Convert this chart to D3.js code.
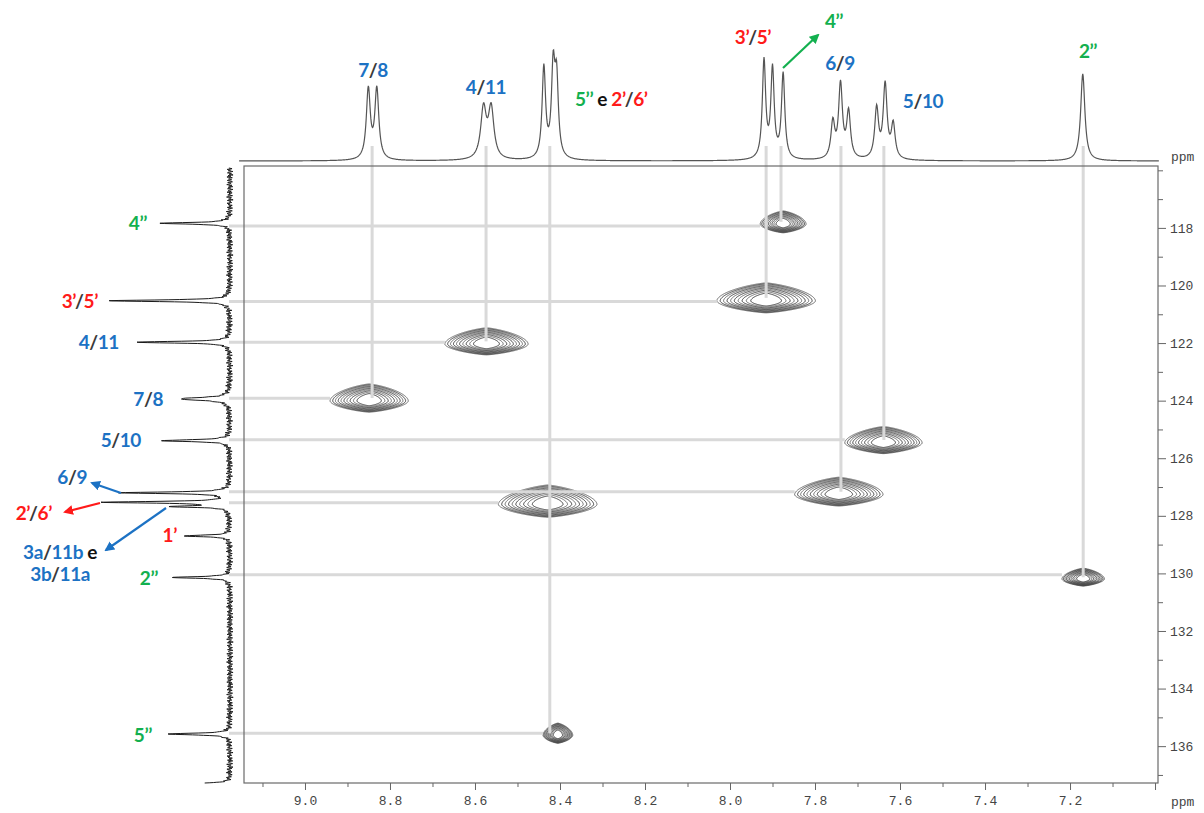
<!DOCTYPE html>
<html>
<head>
<meta charset="utf-8">
<script src="https://cdn.jsdelivr.net/npm/d3@7"></script>
<style>
  body { margin: 0; background: #fff; }
  svg { display: block; }
</style>
</head>
<body>
<svg id="chart" width="1204" height="813"></svg>
<script>
// 1H projection (top trace): line positions (ppm), heights, half widths (ppm)
const hPeakPpm    = [8.851, 8.831, 8.580, 8.562, 8.438, 8.416, 8.408, 7.920, 7.900, 7.875, 7.758, 7.740, 7.721, 7.655, 7.635, 7.616, 7.170];
const hPeakHeight = [70, 70, 50, 50, 91, 86, 74, 98, 89, 85, 36, 74, 46, 50, 74, 34, 87];
const hPeakWidth  = [0.0056, 0.0056, 0.0078, 0.0078, 0.0049, 0.0049, 0.0049, 0.0047, 0.0047, 0.0047, 0.0054, 0.0054, 0.0054, 0.0054, 0.0054, 0.0054, 0.0059];

// 13C projection (left trace)
const cPeakPpm    = [117.84, 120.53, 121.97, 123.94, 125.39, 127.20, 127.53, 127.68, 128.70, 130.14, 135.58, 137.30];
const cPeakHeight = [69, 121, 94, 50, 67, 107, 125, 57, 45, 57, 63, 41];
const cPeakWidth  = [0.035, 0.035, 0.035, 0.06, 0.04, 0.035, 0.035, 0.03, 0.035, 0.035, 0.035, 0.03];
// baseline wiggle of the 13C trace
const cNoise = [0.8,-1.6,2.1,-0.4,1.3,-2.2,0.2,1.9,-1.1,0.6,-2.4,1.5,-0.7,2.3,-1.8,0.4,1.1,-1.3,2.0,-0.2,
                -1.9,1.7,-0.9,0.3,2.4,-1.5,0.9,-2.1,1.2,-0.5,1.8,-2.3,0.1,1.4,-1.0,2.2,-1.7,0.7,-0.3,1.6,
                -2.0,0.5,2.5,-1.2,-0.6,1.0,-2.5,1.9,-0.8,0.2,-1.4,2.1,-0.1,1.3,-1.9,0.6,-1.1,1.8,-2.2,0.9,
                1.2,-0.3,-2.1,2.4,-1.0,0.4,1.7,-2.4,0.7,-1.5,2.2,0.0,-0.9,1.5,-1.8,2.6,-0.6,1.1,-2.0,0.3];

// HSQC cross peaks: 4'', 3'/5', 4/11, 7/8, 5/10, 6/9, 5''+2'/6', 2'', 5''
const crossH     = [7.875, 7.915, 8.573, 8.849, 7.639, 7.744, 8.429, 7.169, 8.405];
const crossC     = [117.79, 120.43, 121.94, 123.91, 125.37, 127.16, 127.49, 130.13, 135.55];
const crossHalfH = [0.054, 0.116, 0.098, 0.092, 0.091, 0.104, 0.116, 0.050, 0.035];
const crossHalfC = [0.38, 0.52, 0.47, 0.49, 0.47, 0.50, 0.56, 0.31, 0.35];

// guide lines (13C shift of horizontal guide, 1H shift of vertical guide)
const hGuideC = [117.93, 120.56, 121.97, 123.92, 125.36, 127.16, 127.55, 130.05, 135.55];
const vGuideH = [7.880, 7.915, 8.574, 8.842, 7.638, 7.739, null, 7.169, 8.424];

const xMajor = [9.0, 8.8, 8.6, 8.4, 8.2, 8.0, 7.8, 7.6, 7.4, 7.2, 7.0];
const xMinor = [9.1, 8.9, 8.7, 8.5, 8.3, 8.1, 7.9, 7.7, 7.5, 7.3, 7.1];
const yMajor = [118, 120, 122, 124, 126, 128, 130, 132, 134, 136];
const yMinor = [116, 117, 119, 121, 123, 125, 127, 129, 131, 133, 135, 137];

const blue = "#1c72c4", red = "#ff1a1a", green = "#13b04f", slash = "#3a3a3a", black = "#111";

const svg = d3.select("#chart");

const x = d3.scaleLinear().domain([9.1435, 6.993]).range([244, 1158]);
const y = d3.scaleLinear().domain([115.85, 137.28]).range([166, 783]);
const topY = d3.scaleLinear().domain([0, 120]).range([161, 41]);
const leftX = d3.scaleLinear().domain([0, 130]).range([230, 100]);

// ---- contours
const expH = 1.3, expC = 1.8, depth = 3, nLevels = 10, step = 0.5;
const levels = d3.range(nLevels).map(k => Math.exp(-depth + k * (depth - 0.4) / nLevels));
const contourG = svg.append("g");

crossH.forEach(function (h, i) {
    const hw = crossHalfH[i] / Math.pow(depth, 1 / expH);
    const cwUp = crossHalfC[i] * 1.2 / Math.pow(depth, 1 / expC);
    const cwDn = crossHalfC[i] * 0.8 / Math.pow(depth, 1 / expC);
    const c0 = crossC[i] + 0.2 * crossHalfC[i];

    const px0 = x(h + crossHalfH[i] * 1.3), px1 = x(h - crossHalfH[i] * 1.3);
    const py0 = y(crossC[i] - crossHalfC[i] * 1.4), py1 = y(crossC[i] + crossHalfC[i] * 1.4);
    const nx = Math.ceil((px1 - px0) / step) + 1, ny = Math.ceil((py1 - py0) / step) + 1;

    const values = new Array(nx * ny);
    for (let j = 0; j < ny; j++) {
        for (let k = 0; k < nx; k++) {
            const dh = (x.invert(px0 + k * step) - h) / hw;
            const dcRaw = y.invert(py0 + j * step) - c0;
            const dc = dcRaw / (dcRaw < 0 ? cwUp : cwDn);
            values[j * nx + k] = Math.exp(-Math.pow(Math.abs(dh), expH) - Math.pow(Math.abs(dc), expC));
        }
    }

    const proj = d3.geoTransform({
        point: function (u, v) { this.stream.point(px0 + (u - 0.5) * step, py0 + (v - 0.5) * step); }
    });
    const path = d3.geoPath(proj);

    contourG.selectAll(null)
        .data(d3.contours().size([nx, ny]).thresholds(levels)(values))
        .enter().append("path")
        .attr("d", path)
        .attr("fill", "none")
        .attr("stroke", (d, k) => k % 2 ? "#222" : "#555")
        .attr("stroke-width", 0.85);
});

// ---- guide lines
const guideG = svg.append("g").attr("stroke", "#d9d9d9").attr("stroke-width", 3);
hGuideC.forEach(function (c, i) {
    guideG.append("line")
        .attr("x1", 229).attr("x2", x(crossH[i] + crossHalfH[i]))
        .attr("y1", y(c)).attr("y2", y(c));
});
vGuideH.forEach(function (h, i) {
    if (h === null) return;
    guideG.append("line")
        .attr("x1", x(h)).attr("x2", x(h))
        .attr("y1", 146).attr("y2", y(crossC[i]));
});

// ---- frame
svg.append("rect")
    .attr("x", 244).attr("y", 166).attr("width", 914).attr("height", 617)
    .attr("fill", "none").attr("stroke", "#6a6a6a").attr("stroke-width", 1.2);

// ---- 1H trace
const hPts = d3.range(9.155, 6.99, -0.001).map(function (p) {
    let v = 0;
    hPeakPpm.forEach(function (c, i) {
        const d = (p - c) / hPeakWidth[i];
        v += hPeakHeight[i] / (1 + d * d);
    });
    return [p, v];
});
svg.append("path")
    .attr("d", d3.line().x(d => x(d[0])).y(d => topY(d[1]))(hPts))
    .attr("fill", "none").attr("stroke", "#555").attr("stroke-width", 1.2);

// ---- 13C trace
const cStep = 0.008, sub = 3;
const cPts = d3.range(115.92, 137.285, cStep).map(function (p, i) {
    let v = 0;
    cPeakPpm.forEach(function (c, k) {
        const d = (p - c) / cPeakWidth[k];
        v += cPeakHeight[k] / (1 + d * d);
    });
    const n = Math.floor(i / sub), f = (i % sub) / sub;
    const a = cNoise[n % cNoise.length], b = cNoise[(n + 1) % cNoise.length];
    return [p, v + 1.3 * (a + (b - a) * f)];
});
svg.append("path")
    .attr("d", d3.line().x(d => leftX(d[1])).y(d => y(d[0]))(cPts))
    .attr("fill", "none").attr("stroke", "#1a1a1a").attr("stroke-width", 1);

// ---- axes
const axisFont = "'Liberation Mono', 'DejaVu Sans Mono', monospace";
const xAxis = svg.append("g").attr("transform", "translate(0,783)")
    .call(d3.axisBottom(x).tickValues(xMajor).tickSize(7).tickPadding(6)
        .tickFormat(d => d > 7.05 ? d3.format(".1f")(d) : ""));
xAxis.append("g").call(d3.axisBottom(x).tickValues(xMinor).tickSize(4).tickFormat(""))
    .select(".domain").remove();

const yAxis = svg.append("g").attr("transform", "translate(1158,0)")
    .call(d3.axisRight(y).tickValues(yMajor).tickSize(8).tickPadding(4).tickFormat(d3.format("d")));
yAxis.append("g").call(d3.axisRight(y).tickValues(yMinor).tickSize(5).tickFormat(""))
    .select(".domain").remove();

svg.selectAll(".domain").remove();
svg.selectAll(".tick line").attr("stroke", "#666");
svg.selectAll(".tick text").attr("font-family", axisFont).attr("font-size", 13).attr("fill", "#444");

svg.append("text").attr("x", 1171).attr("y", 161).text("ppm")
    .attr("font-family", axisFont).attr("font-size", 13).attr("fill", "#444");
svg.append("text").attr("x", 1171).attr("y", 806).text("ppm")
    .attr("font-family", axisFont).attr("font-size", 13).attr("fill", "#444");

// ---- labels
const labelFont = "Lato, 'Open Sans', sans-serif";
const labelG = svg.append("g")
    .attr("font-family", labelFont).attr("font-weight", 700).attr("font-size", 19)
    .attr("letter-spacing", "-0.4px");

function addLabel(px, py, anchor, parts) {
    const t = labelG.append("text").attr("x", px).attr("y", py).attr("text-anchor", anchor);
    parts.forEach(function (p) { t.append("tspan").attr("fill", p[1]).text(p[0]); });
}

// top
addLabel(373, 77, "middle", [["7", blue], ["/", slash], ["8", blue]]);
addLabel(486, 94, "middle", [["4", blue], ["/", slash], ["11", blue]]);
addLabel(575, 106, "start", [["5’’", green], [" e ", black], ["2’", red], ["/", slash], ["6’", red]]);
addLabel(753, 44, "middle", [["3’", red], ["/", slash], ["5’", red]]);
addLabel(834, 28, "middle", [["4’’", green]]);
addLabel(840, 70, "middle", [["6", blue], ["/", slash], ["9", blue]]);
addLabel(923, 108, "middle", [["5", blue], ["/", slash], ["10", blue]]);
addLabel(1088, 58, "middle", [["2’’", green]]);
// left
addLabel(147, 230, "end", [["4’’", green]]);
addLabel(98, 308, "end", [["3’", red], ["/", slash], ["5’", red]]);
addLabel(119, 349, "end", [["4", blue], ["/", slash], ["11", blue]]);
addLabel(163, 406, "end", [["7", blue], ["/", slash], ["8", blue]]);
addLabel(141, 447, "end", [["5", blue], ["/", slash], ["10", blue]]);
addLabel(87, 484, "end", [["6", blue], ["/", slash], ["9", blue]]);
addLabel(52, 520, "end", [["2’", red], ["/", slash], ["6’", red]]);
addLabel(97, 559, "end", [["3a", blue], ["/", slash], ["11b", blue], [" e", black]]);
addLabel(90, 581, "end", [["3b", blue], ["/", slash], ["11a", blue]]);
addLabel(177, 542, "end", [["1’", red]]);
addLabel(158, 585, "end", [["2’’", green]]);
addLabel(152, 742, "end", [["5’’", green]]);

// ---- arrows
const defs = svg.append("defs");
[["g", green], ["b", blue], ["r", red]].forEach(function (m) {
    defs.append("marker").attr("id", "arrow-" + m[0])
        .attr("viewBox", "0 0 10 10").attr("refX", 8).attr("refY", 5)
        .attr("markerWidth", 4.5).attr("markerHeight", 4.5).attr("orient", "auto")
        .append("path").attr("d", "M0,0L10,5L0,10z").attr("fill", m[1]);
});
function addArrow(x1, y1, x2, y2, key, color) {
    svg.append("line").attr("x1", x1).attr("y1", y1).attr("x2", x2).attr("y2", y2)
        .attr("stroke", color).attr("stroke-width", 2.2)
        .attr("marker-end", "url(#arrow-" + key + ")");
}
addArrow(783, 68, 818, 35, "g", green);
addArrow(121, 493, 92, 483, "b", blue);
addArrow(100, 503, 65, 512, "r", red);
addArrow(166, 508, 106, 550, "b", blue);
</script>
</body>
</html>
